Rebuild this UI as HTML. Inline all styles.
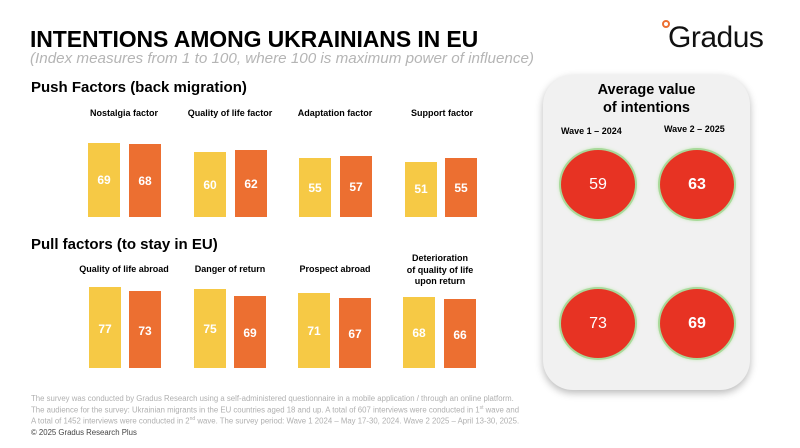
<!DOCTYPE html>
<html><head><meta charset="utf-8"><style>
*{margin:0;padding:0;box-sizing:border-box}
body{width:800px;height:448px;background:#fff;position:relative;overflow:hidden;font-family:"Liberation Sans",Arial,sans-serif;color:#000}
.a{position:absolute;white-space:nowrap}
.bar{position:absolute;width:32px}
.y{background:#f6c945}
.o{background:#ec6f31}
.v{position:absolute;width:32px;text-align:center;color:#fff;font-weight:bold;font-size:12px}
.lab{position:absolute;text-align:center;font-weight:bold;font-size:9px;line-height:11.5px;width:110px}
.c{position:absolute;width:74px;height:69px;border-radius:50%;background:#e73323;box-shadow:0 0 0 2px #a8d99a,0 0 3px 2px #c8e8bc;color:#fff;font-size:16px;text-align:center;line-height:69px}
.foot{position:absolute;left:31px;font-size:7.8px;color:#b0b0b0;white-space:nowrap}
</style></head><body>
<div class="a" style="left:30px;top:26px;font-size:23px;font-weight:bold;letter-spacing:-0.1px">INTENTIONS AMONG UKRAINIANS IN EU</div>
<div class="a" style="left:30px;top:50px;font-size:15.2px;font-style:italic;color:#b5b5b5">(Index measures from 1 to 100, where 100 is maximum power of influence)</div>
<div class="a" style="left:662px;top:20px;width:8px;height:8px;border-radius:50%;border:2px solid #ec6f31"></div>
<div class="a" style="left:668px;top:21px;font-size:30px;letter-spacing:-0.5px;color:#111">Gradus</div>

<div class="a" style="left:31px;top:79px;font-size:15px;font-weight:bold">Push Factors (back migration)</div>
<div class="lab" style="left:69px;top:108px">Nostalgia factor</div>
<div class="lab" style="left:175px;top:108px">Quality of life factor</div>
<div class="lab" style="left:280px;top:108px">Adaptation factor</div>
<div class="lab" style="left:387px;top:108px">Support factor</div>

<div class="bar y" style="left:88px;top:143px;height:74px"></div><div class="v" style="left:88px;top:173px">69</div>
<div class="bar o" style="left:129px;top:144px;height:73px"></div><div class="v" style="left:129px;top:174px">68</div>
<div class="bar y" style="left:194px;top:152px;height:65px"></div><div class="v" style="left:194px;top:178px">60</div>
<div class="bar o" style="left:235px;top:150px;height:67px"></div><div class="v" style="left:235px;top:177px">62</div>
<div class="bar y" style="left:299px;top:158px;height:59px"></div><div class="v" style="left:299px;top:181px">55</div>
<div class="bar o" style="left:340px;top:156px;height:61px"></div><div class="v" style="left:340px;top:180px">57</div>
<div class="bar y" style="left:405px;top:162px;height:55px"></div><div class="v" style="left:405px;top:182px">51</div>
<div class="bar o" style="left:445px;top:158px;height:59px"></div><div class="v" style="left:445px;top:181px">55</div>

<div class="a" style="left:31px;top:236px;font-size:15px;font-weight:bold">Pull factors (to stay in EU)</div>
<div class="lab" style="left:69px;top:264px">Quality of life abroad</div>
<div class="lab" style="left:175px;top:264px">Danger of return</div>
<div class="lab" style="left:280px;top:264px">Prospect abroad</div>
<div class="lab" style="left:385px;top:253px">Deterioration<br>of quality of life<br>upon return</div>

<div class="bar y" style="left:89px;top:287px;height:81px"></div><div class="v" style="left:89px;top:322px">77</div>
<div class="bar o" style="left:129px;top:291px;height:77px"></div><div class="v" style="left:129px;top:324px">73</div>
<div class="bar y" style="left:194px;top:289px;height:79px"></div><div class="v" style="left:194px;top:322px">75</div>
<div class="bar o" style="left:234px;top:296px;height:72px"></div><div class="v" style="left:234px;top:326px">69</div>
<div class="bar y" style="left:298px;top:293px;height:75px"></div><div class="v" style="left:298px;top:324px">71</div>
<div class="bar o" style="left:339px;top:298px;height:70px"></div><div class="v" style="left:339px;top:327px">67</div>
<div class="bar y" style="left:403px;top:297px;height:71px"></div><div class="v" style="left:403px;top:326px">68</div>
<div class="bar o" style="left:444px;top:299px;height:69px"></div><div class="v" style="left:444px;top:328px">66</div>

<div class="foot" style="top:394px">The survey was conducted by Gradus Research using a self-administered questionnaire in a mobile application / through an online platform.</div>
<div class="foot" style="top:405px">The audience for the survey: Ukrainian migrants in the EU countries aged 18 and up. A total of 607 interviews were conducted in 1<sup style="font-size:5px">st</sup> wave and</div>
<div class="foot" style="top:416px">A total of 1452 interviews were conducted in 2<sup style="font-size:5px">nd</sup> wave. The survey period: Wave 1 2024 – May 17-30, 2024. Wave 2 2025 – April 13-30, 2025.</div>
<div class="foot" style="top:428px;color:#444">© 2025 Gradus Research Plus</div>

<div class="a" style="left:543px;top:75px;width:207px;height:315px;border-radius:30px;background:#f1f1f1;box-shadow:0 3px 8px rgba(0,0,0,0.28)"></div>
<div class="a" style="left:543px;top:81px;width:207px;text-align:center;font-size:14.5px;font-weight:bold;line-height:18px">Average value<br>of intentions</div>
<div class="a" style="left:561px;top:126px;font-size:9px;font-weight:bold">Wave 1 – 2024</div>
<div class="a" style="left:664px;top:124px;font-size:9px;font-weight:bold">Wave 2 – 2025</div>
<div class="c" style="left:561px;top:150px">59</div>
<div class="c" style="left:660px;top:150px;font-weight:bold">63</div>
<div class="c" style="left:561px;top:289px">73</div>
<div class="c" style="left:660px;top:289px;font-weight:bold">69</div>
</body></html>
